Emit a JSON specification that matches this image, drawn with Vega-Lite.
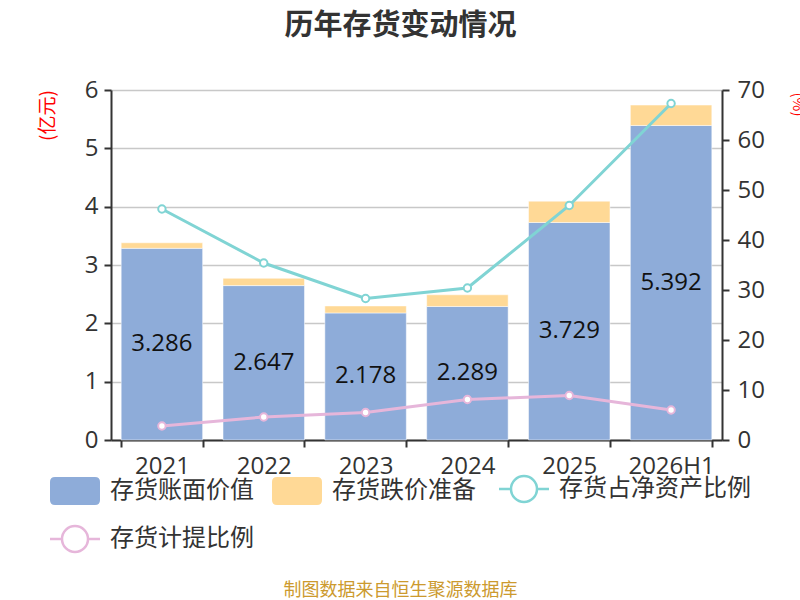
{
"$schema": "https://vega.github.io/schema/vega-lite/v6.json",
"width": 611,
"height": 350,
"autosize": "none",
"padding": {"left": 111, "top": 90, "right": 78, "bottom": 160},
"background": "white",
"config": {
  "font": "Noto Sans CJK SC",
  "view": {"stroke": null},
  "axis": {"labelFont": "Open Sans", "labelFontSize": 24, "labelColor": "#333", "domainColor": "#333", "domainWidth": 2, "tickColor": "#333", "tickWidth": 2, "tickSize": 7},
  "legend": {
    "orient": "none", "legendX": -61, "legendY": 387, "direction": "horizontal", "columns": 3, "title": null,
    "labelFontSize": 24, "labelColor": "#333", "labelOffset": 9, "labelLimit": 400, "columnPadding": 18, "rowPadding": 14,
    "symbolSize": 2500
  }
},
"title": {"text": "历年存货变动情况", "fontSize": 29, "fontWeight": "bold", "color": "#333", "anchor": "middle", "frame": "group", "dx": -16, "offset": 37},
"datasets": {
  "bars": [
    {"年份": "2021", "类型": "存货账面价值", "值": 3.286},
    {"年份": "2021", "类型": "存货跌价准备", "值": 0.095},
    {"年份": "2022", "类型": "存货账面价值", "值": 2.647},
    {"年份": "2022", "类型": "存货跌价准备", "值": 0.125},
    {"年份": "2023", "类型": "存货账面价值", "值": 2.178},
    {"年份": "2023", "类型": "存货跌价准备", "值": 0.12},
    {"年份": "2024", "类型": "存货账面价值", "值": 2.289},
    {"年份": "2024", "类型": "存货跌价准备", "值": 0.2},
    {"年份": "2025", "类型": "存货账面价值", "值": 3.729},
    {"年份": "2025", "类型": "存货跌价准备", "值": 0.365},
    {"年份": "2026H1", "类型": "存货账面价值", "值": 5.392},
    {"年份": "2026H1", "类型": "存货跌价准备", "值": 0.35}
  ],
  "lines": [
    {"年份": "2021", "类型": "存货占净资产比例", "比例": 46.2},
    {"年份": "2022", "类型": "存货占净资产比例", "比例": 35.4},
    {"年份": "2023", "类型": "存货占净资产比例", "比例": 28.3},
    {"年份": "2024", "类型": "存货占净资产比例", "比例": 30.4},
    {"年份": "2025", "类型": "存货占净资产比例", "比例": 46.9},
    {"年份": "2026H1", "类型": "存货占净资产比例", "比例": 67.3},
    {"年份": "2021", "类型": "存货计提比例", "比例": 2.8},
    {"年份": "2022", "类型": "存货计提比例", "比例": 4.6},
    {"年份": "2023", "类型": "存货计提比例", "比例": 5.5},
    {"年份": "2024", "类型": "存货计提比例", "比例": 8.1},
    {"年份": "2025", "类型": "存货计提比例", "比例": 8.9},
    {"年份": "2026H1", "类型": "存货计提比例", "比例": 6.0}
  ]
},
"encoding": {
  "x": {
    "field": "年份", "type": "nominal", "sort": null,
    "scale": {"paddingInner": 0.2, "paddingOuter": 0.1},
    "axis": {"labelAngle": 0, "tickBand": "extent", "labelPadding": 7,
      "title": "制图数据来自恒生聚源数据库", "titleColor": "#cc9a2e", "titleFontSize": 18, "titleFontWeight": "normal",
      "titleX": 289, "titleY": 150, "titleAlign": "center", "titleBaseline": "middle"}
  }
},
"layer": [
  {
    "data": {"name": "bars"},
    "mark": {"type": "bar", "stroke": "white", "strokeWidth": 0.5},
    "encoding": {
      "y": {"field": "值", "type": "quantitative", "stack": "zero",
        "scale": {"domain": [0, 6]},
        "axis": {"orient": "left", "values": [0, 1, 2, 3, 4, 5, 6], "grid": true, "gridColor": "#c8c8c8", "gridWidth": 1.5, "labelPadding": 6,
          "title": "(亿元)", "titleColor": "red", "titleFontSize": 19, "titleFontWeight": "normal", "titleAngle": -90,
          "titleX": -64, "titleY": 25, "titleAlign": "center", "titleBaseline": "middle"}},
      "order": {"field": "类型", "sort": "ascending"},
      "color": {
        "field": "类型", "type": "nominal",
        "scale": {"domain": ["存货账面价值", "存货跌价准备", "存货占净资产比例", "存货计提比例"], "range": ["#8EACD9", "#FFD996", "#80D4D4", "#E6B6DA"]},
        "legend": {
          "encode": {
            "symbols": {"update": {
              "x": {"value": 25},
              "shape": {"signal": "indexof(['存货账面价值','存货跌价准备'], datum.value) >= 0 ? 'M-0.8,-0.56H0.8Q1,-0.56 1,-0.36V0.36Q1,0.56 0.8,0.56H-0.8Q-1,0.56 -1,0.36V-0.36Q-1,-0.56 -0.8,-0.56Z' : 'M-1,0H-0.52M0.52,0H1M0.52,0A0.52,0.52 0 1,1 -0.52,0A0.52,0.52 0 1,1 0.52,0'"},
              "fillOpacity": {"signal": "indexof(['存货账面价值','存货跌价准备'], datum.value) >= 0 ? 1 : 0"},
              "stroke": {"signal": "scale('color', datum.value)"},
              "strokeWidth": {"signal": "indexof(['存货账面价值','存货跌价准备'], datum.value) >= 0 ? 0 : 2.5"},
              "opacity": {"value": 1}
            }},
            "labels": {"update": {"x": {"value": 60}}}
          }
        }
      }
    }
  },
  {
    "data": {"name": "bars"},
    "transform": [{"filter": "datum['类型'] == '存货账面价值'"}],
    "mark": {"type": "text", "font": "Open Sans", "fontSize": 24, "color": "#111", "baseline": "middle"},
    "encoding": {
      "y": {"field": "值", "type": "quantitative", "scale": {"domain": [0, 12]}, "axis": null},
      "text": {"field": "值", "type": "quantitative", "format": ".3f"}
    }
  },
  {
    "data": {"name": "lines"},
    "mark": {"type": "line", "strokeWidth": 3, "point": {"filled": false, "fill": "white", "size": 55, "strokeWidth": 2}},
    "encoding": {
      "y": {"field": "比例", "type": "quantitative", "scale": {"domain": [0, 70]},
        "axis": {"orient": "right", "values": [0, 10, 20, 30, 40, 50, 60, 70], "grid": false, "labelPadding": 8,
          "title": "(%)", "titleColor": "red", "titleFontSize": 15, "titleFontWeight": "normal", "titleAngle": 90,
          "titleX": 75, "titleY": 14, "titleAlign": "center", "titleBaseline": "middle"}},
      "color": {
        "field": "类型", "type": "nominal",
        "legend": {
          "encode": {
            "symbols": {"update": {
              "x": {"value": 25},
              "shape": {"signal": "indexof(['存货账面价值','存货跌价准备'], datum.value) >= 0 ? 'M-0.8,-0.56H0.8Q1,-0.56 1,-0.36V0.36Q1,0.56 0.8,0.56H-0.8Q-1,0.56 -1,0.36V-0.36Q-1,-0.56 -0.8,-0.56Z' : 'M-1,0H-0.52M0.52,0H1M0.52,0A0.52,0.52 0 1,1 -0.52,0A0.52,0.52 0 1,1 0.52,0'"},
              "fillOpacity": {"signal": "indexof(['存货账面价值','存货跌价准备'], datum.value) >= 0 ? 1 : 0"},
              "stroke": {"signal": "scale('color', datum.value)"},
              "strokeWidth": {"signal": "indexof(['存货账面价值','存货跌价准备'], datum.value) >= 0 ? 0 : 2.5"},
              "opacity": {"value": 1}
            }},
            "labels": {"update": {"x": {"value": 60}}}
          }
        }
      }
    }
  }
],
"resolve": {"scale": {"y": "independent"}}
}
